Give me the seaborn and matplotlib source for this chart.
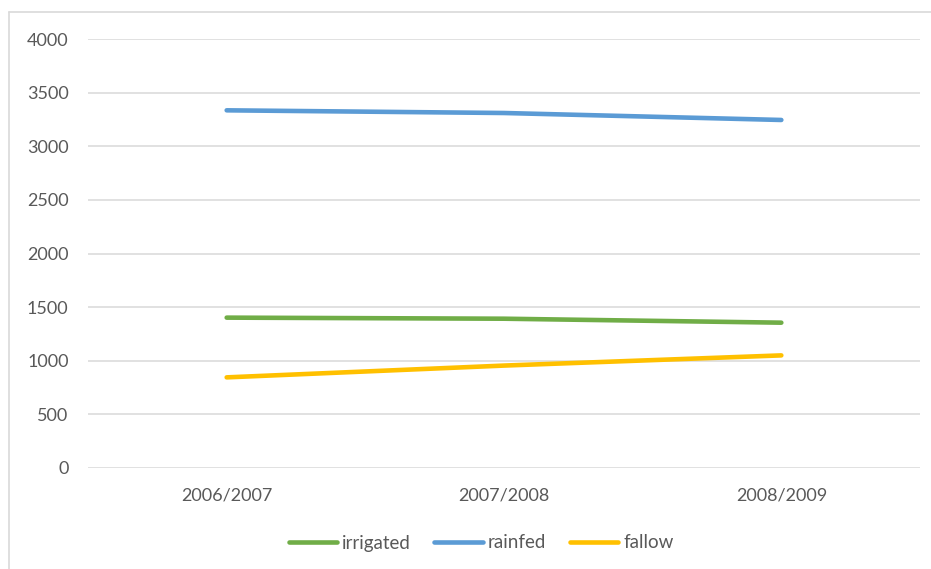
import matplotlib
matplotlib.use("Agg")
import matplotlib.pyplot as plt
from matplotlib.lines import Line2D
import seaborn as sns
import pandas as pd

seasons = ["2006/2007", "2007/2008", "2008/2009"]
irrigated = [1402, 1392, 1355]
rainfed = [3335, 3310, 3245]
fallow = [845, 955, 1050]
series_names = ["irrigated", "rainfed", "fallow"]
y_ticks = [0, 500, 1000, 1500, 2000, 2500, 3000, 3500, 4000]

colors = {"irrigated": "#70AD47", "rainfed": "#5B9BD5", "fallow": "#FFC000"}
text_color = "#595959"
grid_color = "#D9D9D9"

sns.set_theme(style="white")
plt.rcParams["font.family"] = ["Lato", "DejaVu Sans"]

df = pd.DataFrame({
    "season": seasons * 3,
    "area": irrigated + rainfed + fallow,
    "type": [n for n in series_names for _ in seasons],
})
df["pos"] = df["season"].map({s: i for i, s in enumerate(seasons)})

fig = plt.figure(figsize=(9.31, 5.69), dpi=100)
ax = fig.add_axes([88 / 931, 1 - 468 / 569, (920 - 88) / 931, (468 - 39) / 569])

for y in y_ticks:
    ax.axhline(y, color=grid_color, lw=1.1, zorder=0)

sns.lineplot(data=df, x="pos", y="area", hue="type", hue_order=series_names,
             palette=colors, linewidth=3.3, ax=ax, legend=False,
             solid_capstyle="round", zorder=3)

ax.set_xlim(-0.5, 2.5)
ax.set_ylim(0, 4000)
ax.set_xticks(range(len(seasons)))
ax.set_xticklabels(seasons)
ax.set_yticks(y_ticks)
ax.set_yticklabels([str(v) for v in y_ticks])
ax.set_xlabel("")
ax.set_ylabel("")
for s in ax.spines.values():
    s.set_visible(False)
ax.tick_params(axis="both", length=0, labelsize=13, labelcolor=text_color)
ax.tick_params(axis="x", pad=14)
ax.tick_params(axis="y", pad=14)

handles = [Line2D([0], [0], color=colors[n], lw=3.3, solid_capstyle="round")
           for n in series_names]
fig.legend(handles, series_names, loc="center", bbox_to_anchor=(481 / 931, 1 - 543 / 569),
           ncol=3, frameon=False, fontsize=13.5, labelcolor=text_color,
           handlelength=2.6, handletextpad=0.25, columnspacing=1.25)

# chart frame (top and left edges)
fig.add_artist(Line2D([9 / 931, 9 / 931], [0, 1 - 12 / 569], color=grid_color, lw=1.2))
fig.add_artist(Line2D([9 / 931, 1], [1 - 12 / 569, 1 - 12 / 569], color=grid_color, lw=1.2))

fig.savefig("out.png", dpi=100, facecolor="white")
